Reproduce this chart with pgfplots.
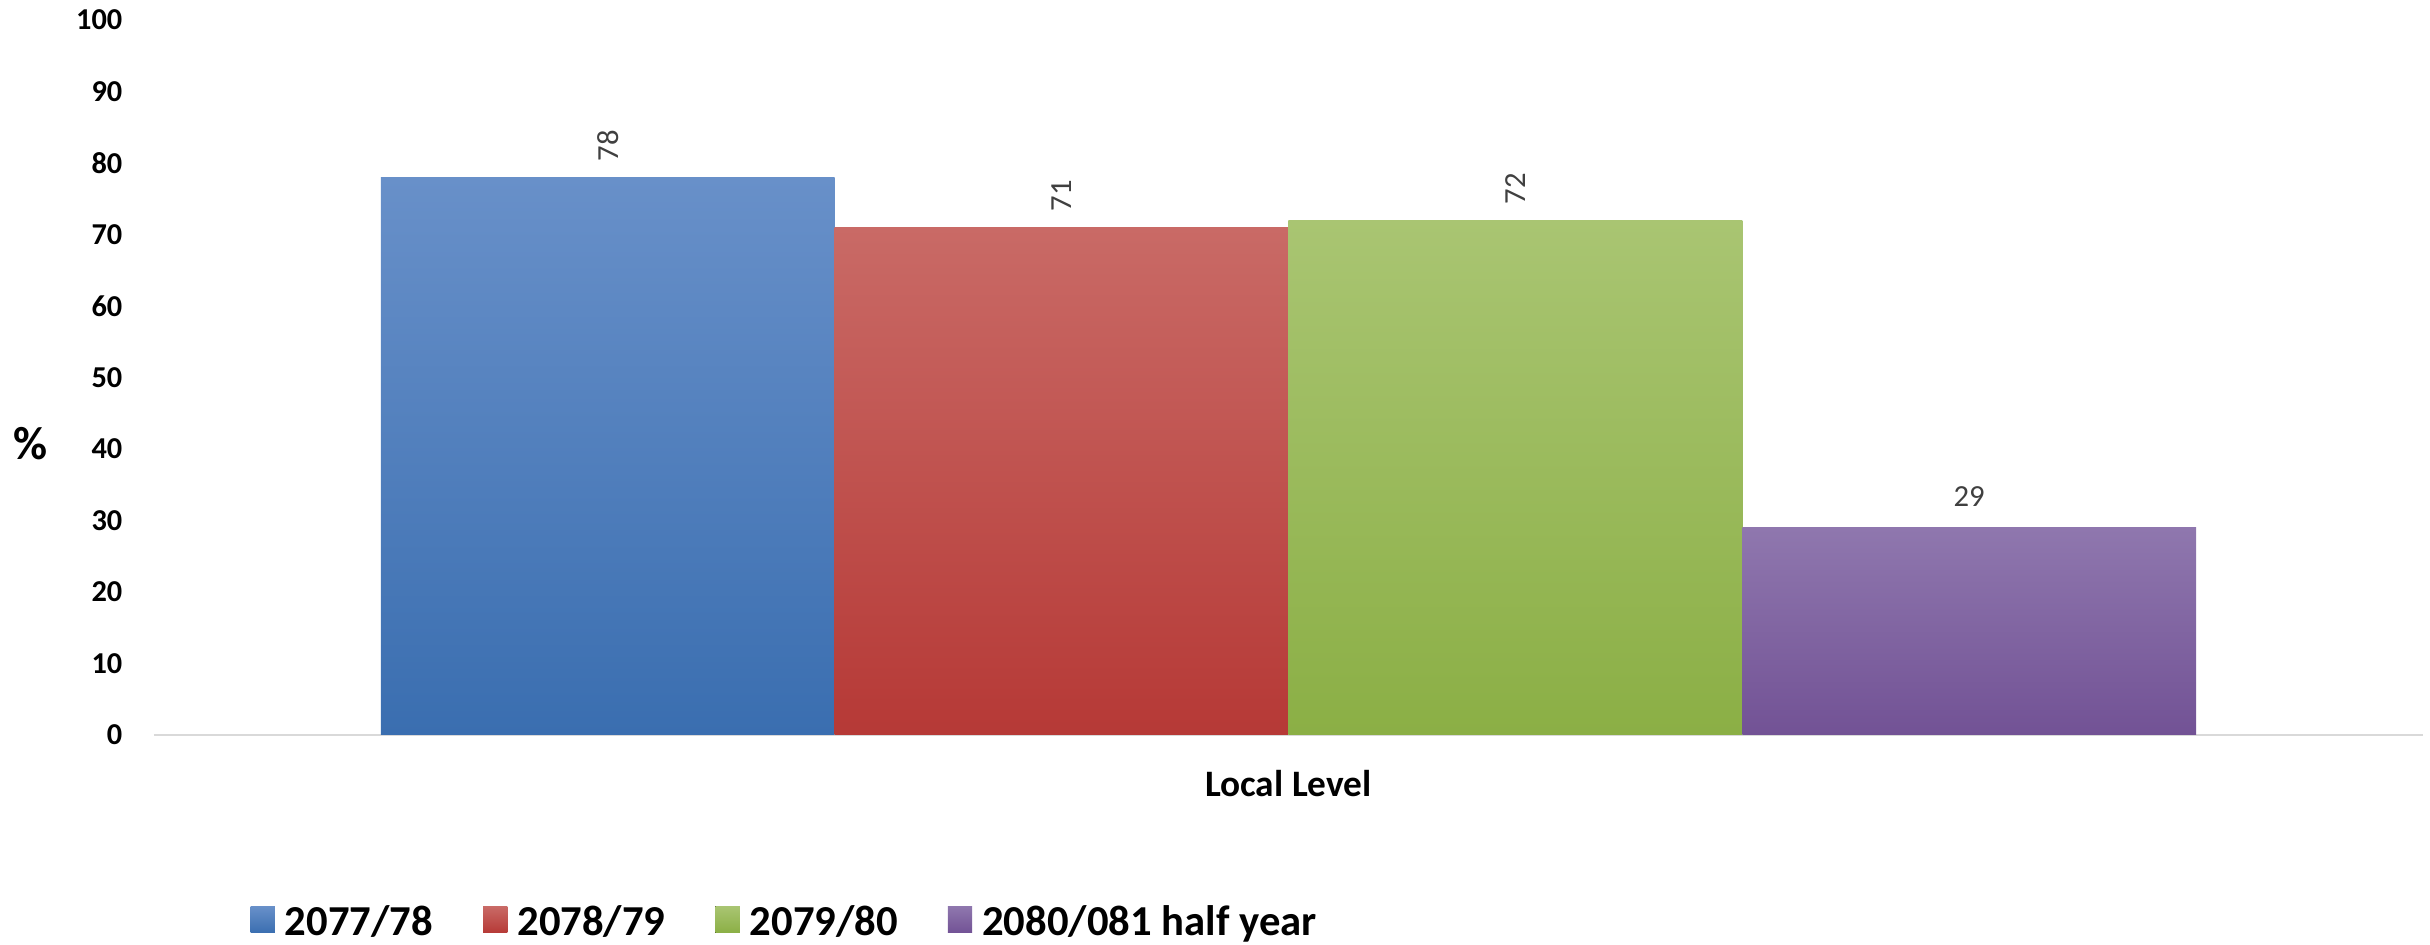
\documentclass[border=0pt]{standalone}
\usepackage{pgfplots}
\pgfplotsset{compat=1.18}
\usepackage{fontspec}
\setmainfont{Carlito}

\definecolor{blueTop}{HTML}{6890C9}
\definecolor{blueBot}{HTML}{3A6EB0}
\definecolor{redTop}{HTML}{C96A66}
\definecolor{redBot}{HTML}{B63936}
\definecolor{greenTop}{HTML}{A9C572}
\definecolor{greenBot}{HTML}{8BAF45}
\definecolor{purpTop}{HTML}{8F77AE}
\definecolor{purpBot}{HTML}{725295}
\definecolor{axisgray}{HTML}{D9D9D9}
\definecolor{lblgray}{HTML}{404040}

\begin{document}
\begin{tikzpicture}
% picture frame in px*0.3pt, origin at the axis' lower left corner
\useasboundingbox (-46.2pt,-63pt) rectangle (682.8pt,220.5pt);
\begin{axis}[
    at={(0,0)}, anchor=south west,
    scale only axis,
    width=680.7pt, height=214.5pt,
    xmin=0, xmax=5,
    ymin=0, ymax=100,
    xtick=\empty,
    ytick={0,10,...,100},
    major tick length=0pt,
    axis x line*=bottom,
    axis y line*=left,
    y axis line style={draw=none},
    x axis line style={draw=axisgray, line width=0.75pt, -},
    /pgf/number format/assume math mode=true,
    yticklabel style={font=\fontsize{9.1}{11}\selectfont\bfseries, inner sep=0pt, anchor=east, xshift=-9.3pt},
    every axis y label/.style={at={(axis description cs:0,0.408)}, anchor=center, xshift=-37pt, font=\fontsize{14}{16}\selectfont\bfseries},
    ylabel={\%},
    every axis x label/.style={at={(axis description cs:0.5,0)}, anchor=center, yshift=-14.7pt, font=\fontsize{11.2}{13}\selectfont\bfseries},
    xlabel={Local Level},
    legend columns=4,
    legend image code/.code={\fill[#1] (0pt,-3pt) rectangle (7.3pt,5pt);},
    legend style={
        at={(axis description cs:0,0)}, anchor=west,
        xshift=28.8pt, yshift=-56.4pt,
        draw=none, fill=none, inner sep=0pt,
        font=\fontsize{12.8}{15}\selectfont\bfseries,
        nodes={inner sep=0pt},
        /tikz/every odd column/.append style={column sep=3pt},
        /tikz/every even column/.append style={column sep=15pt},
    },
    nodes near coords,
    every node near coord/.append style={font=\fontsize{9.2}{11}\selectfont, text=lblgray},
]

\addplot[ybar, bar width=1, bar shift=0pt, draw=none, top color=blueTop, bottom color=blueBot,
    every node near coord/.append style={rotate=90, anchor=west, inner sep=4.6pt}]
    coordinates {(1,78)};
\addplot[ybar, bar width=1, bar shift=0pt, draw=none, top color=redTop, bottom color=redBot,
    every node near coord/.append style={rotate=90, anchor=west, inner sep=4.6pt}]
    coordinates {(2,71)};
\addplot[ybar, bar width=1, bar shift=0pt, draw=none, top color=greenTop, bottom color=greenBot,
    every node near coord/.append style={rotate=90, anchor=west, inner sep=4.6pt}]
    coordinates {(3,72)};
\addplot[ybar, bar width=1, bar shift=0pt, draw=none, top color=purpTop, bottom color=purpBot,
    every node near coord/.append style={anchor=south, inner sep=6pt}]
    coordinates {(4,29)};

\legend{2077/78, 2078/79, 2079/80, 2080/081 half year}
\end{axis}
\end{tikzpicture}
\end{document}
